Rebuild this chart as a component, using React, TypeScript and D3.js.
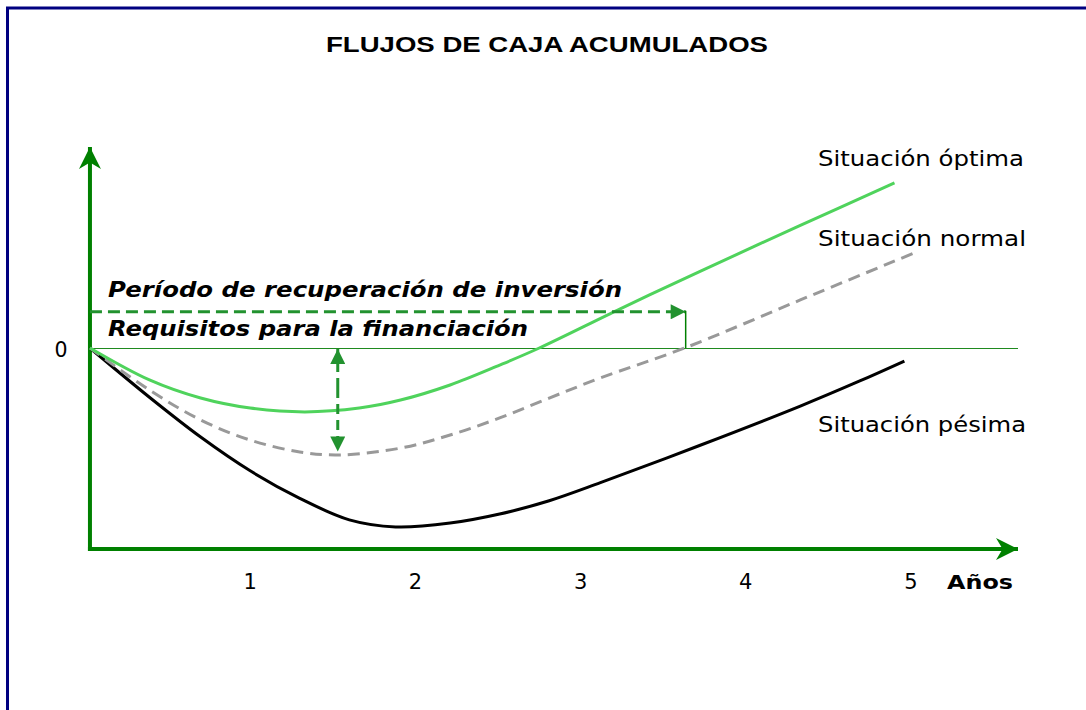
import React from "react";
import * as d3 from "d3";

// years on x, accumulated cash flow (arbitrary units) on y
const optimaYears = [0.03, 0.39, 0.7, 1.0, 1.33, 1.66, 1.91, 2.21, 2.51, 2.75, 3.24, 3.72, 4.33, 4.9];
const optimaValues = [0, -15.9, -24.9, -29.9, -31.8, -29.9, -25.9, -18.4, -8.5, 0, 19.5, 38, 61, 82.1];

const normalYears = [0.03, 0.39, 0.7, 1.0, 1.3, 1.54, 1.91, 2.21, 2.51, 2.81, 3.12, 3.63, 4.33, 5.02];
const normalValues = [0, -20.9, -35.8, -45.8, -51.7, -53.2, -49.8, -43.3, -34.8, -24.9, -14.9, 0, 23.9, 47.3];

const pesimaYears = [0.03, 0.39, 0.7, 1.0, 1.3, 1.6, 1.88, 2.21, 2.51, 2.81, 3.12, 3.72, 4.33, 4.69, 4.96];
const pesimaValues = [0, -24.5, -44.3, -61.1, -74.8, -85.5, -89, -87.1, -82.6, -76, -67, -48.5, -28.9, -16.4, -6.5];

const yearTicks = [1, 2, 3, 4, 5];
const seriesLabels = ["Situación óptima", "Situación normal", "Situación pésima"];

// markers: payback year and financing need (depth of the normal curve)
const paybackYear = 3.63;
const paybackLevel = 18;
const financingYear = 1.53;
const financingDepth = -52.5;

const W = 1086;
const H = 710;

const App = () => {
  const x = d3.scaleLinear().domain([0, 5]).range([85, 911]);
  const y = d3.scaleLinear().domain([-100, 100]).range([549, 147]);

  const line = d3
    .line<[number, number]>()
    .x((d) => x(d[0]))
    .y((d) => y(d[1]))
    .curve(d3.curveCatmullRom.alpha(0.5));

  const zip = (a: number[], b: number[]) => a.map((v, i) => [v, b[i]] as [number, number]);

  const axisX0 = x(0.03);
  const green = "#008000";
  const arrowGreen = "#22922f";
  const font = "DejaVu Sans, Verdana, sans-serif";

  // the original lettering is a bit wider than DejaVu, so stretch to the measured widths
  const stretch = { lengthAdjust: "spacingAndGlyphs" } as any;

  return (
    <svg
      width={W}
      height={H}
      style={{ position: "absolute", left: 0, top: 0, background: "#fff" }}
    >
      <defs>
        <marker id="axArrow" viewBox="0 0 10 10" refX="10" refY="5" markerWidth="6" markerHeight="5.5" orient="auto" markerUnits="strokeWidth">
          <path d="M0,0 L10,5 L0,10 L3,5 Z" fill={green} />
        </marker>
        <marker id="dashArrow" viewBox="0 0 10 10" refX="10" refY="5" markerWidth="5.5" markerHeight="5" orient="auto" markerUnits="strokeWidth">
          <path d="M0,0 L10,5 L0,10 Z" fill={arrowGreen} />
        </marker>
      </defs>

      {/* frame */}
      <path d="M7.5,1200 L7.5,8 L1200,8" fill="none" stroke="#000080" strokeWidth={3} />

      <text x={326} y={52} textLength={442} {...stretch} fontFamily="Liberation Sans, Arial, sans-serif" fontWeight="bold" fontSize={21.5} fill="#000">
        FLUJOS DE CAJA ACUMULADOS
      </text>

      {/* zero line */}
      <line x1={axisX0} x2={1018} y1={y(0) + 0.5} y2={y(0) + 0.5} stroke="#1f8a1f" strokeWidth={1} />

      {/* axes */}
      <line x1={axisX0} x2={axisX0} y1={y(-100) + 2} y2={y(100)} stroke={green} strokeWidth={4} markerEnd="url(#axArrow)" />
      <line x1={axisX0 - 2} x2={1018} y1={y(-100)} y2={y(-100)} stroke={green} strokeWidth={4} markerEnd="url(#axArrow)" />

      <text x={61} y={357} textAnchor="middle" fontFamily={font} fontSize={20.5} fill="#000">0</text>
      {yearTicks.map((t) => (
        <text key={t} x={x(t)} y={589} textAnchor="middle" fontFamily={font} fontSize={21} fill="#000">
          {t}
        </text>
      ))}
      <text x={947} y={589} textLength={66} {...stretch} fontFamily={font} fontWeight="bold" fontSize={19.5} fill="#000">Años</text>

      {/* curves */}
      <path d={line(zip(pesimaYears, pesimaValues)) || ""} fill="none" stroke="#000" strokeWidth={3} />
      <path d={line(zip(normalYears, normalValues)) || ""} fill="none" stroke="#999" strokeWidth={3} strokeDasharray="12 7" />
      <path d={line(zip(optimaYears, optimaValues)) || ""} fill="none" stroke="#4fd35c" strokeWidth={3} />

      {/* payback arrow */}
      <line x1={axisX0} x2={x(paybackYear) + 1} y1={y(paybackLevel)} y2={y(paybackLevel)} stroke={arrowGreen} strokeWidth={3} strokeDasharray="12 6" markerEnd="url(#dashArrow)" />
      <line x1={x(paybackYear) + 1} x2={x(paybackYear) + 1} y1={y(paybackLevel) - 1} y2={y(0)} stroke={green} strokeWidth={1.5} />

      {/* financing arrow */}
      <line x1={x(financingYear)} x2={x(financingYear)} y1={y(0) + 40} y2={y(0) + 1} stroke={arrowGreen} strokeWidth={3} strokeDasharray="10 6" markerEnd="url(#dashArrow)" />
      <line x1={x(financingYear)} x2={x(financingYear)} y1={y(0) + 40} y2={y(financingDepth) - 2} stroke={arrowGreen} strokeWidth={3} strokeDasharray="10 6" markerEnd="url(#dashArrow)" />

      <text x={108} y={297} textLength={514} {...stretch} fontFamily={font} fontWeight="bold" fontStyle="italic" fontSize={20.5} fill="#000">
        Período de recuperación de inversión
      </text>
      <text x={108} y={336} textLength={420} {...stretch} fontFamily={font} fontWeight="bold" fontStyle="italic" fontSize={20.5} fill="#000">
        Requisitos para la financiación
      </text>

      <text x={818} y={166} textLength={206} {...stretch} fontFamily={font} fontSize={20.5} fill="#000">{seriesLabels[0]}</text>
      <text x={818} y={246} textLength={208} {...stretch} fontFamily={font} fontSize={20.5} fill="#000">{seriesLabels[1]}</text>
      <text x={818} y={432} textLength={208} {...stretch} fontFamily={font} fontSize={20.5} fill="#000">{seriesLabels[2]}</text>
    </svg>
  );
};

export default App;
